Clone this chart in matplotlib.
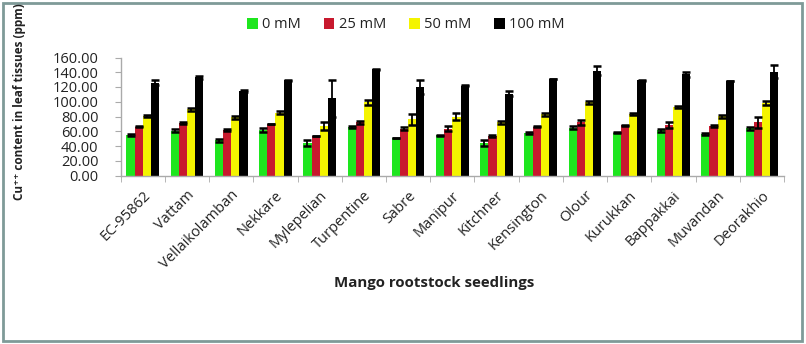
import matplotlib
matplotlib.use("Agg")
import matplotlib.pyplot as plt
import numpy as np
from matplotlib.patches import Rectangle

categories = ["EC-95862", "Vattam", "Vellaikolamban", "Nekkare", "Mylepelian",
              "Turpentine", "Sabre", "Manipur", "Kitchner", "Kensington",
              "Olour", "Kurukkan", "Bappakkai", "Muvandan", "Deorakhio"]
series_names = ["0 mM", "25 mM", "50 mM", "100 mM"]

v0 = [55, 61, 48, 62, 44.5, 66, 51, 54.5, 43.5, 58, 65, 58, 61.5, 56, 64]
v25 = [66, 71, 62, 70, 53.5, 72, 63.5, 63.5, 53.5, 66, 72, 68, 69, 67, 72]
v50 = [81, 90, 79, 85, 67, 99, 76, 80, 72, 83, 99, 83, 93, 80.5, 98]
v100 = [126, 133, 115, 129, 105, 144, 120, 122, 111, 131, 142, 129, 137, 128, 141]

e0 = [1, 2, 2, 3, 4, 1.5, 0.5, 1, 4, 1.5, 2, 1, 2, 1.5, 2]
e25 = [0.5, 1.5, 1.5, 0.5, 0.5, 1.5, 2, 3, 1, 0.5, 3, 0.5, 4, 1.5, 7]
e50 = [1.5, 2, 2, 2, 5, 3, 8, 4.5, 2, 2, 1.5, 1.5, 1.5, 2, 3]
e100 = [3, 2.5, 1.5, 0.5, 25, 0.5, 10, 0.5, 3, 0.5, 6, 0.5, 3.5, 0.5, 9]

colors = ["#1ee61e", "#c8192e", "#f4f400", "#000000"]
FAM = ["Open Sans", "DejaVu Sans"]
TXT = "#222222"

W, H = 806, 344
fig = plt.figure(figsize=(W / 100, H / 100), dpi=100)
fig.patch.set_facecolor("white")

# outer frame
fig.add_artist(Rectangle((2.5 / W, 3.5 / H), (802 - 2.5) / W, (341 - 3.5) / H,
                         transform=fig.transFigure, fill=False,
                         edgecolor="#7f9a98", linewidth=2.0))

ax = fig.add_axes([120.7 / W, 1 - 175.5 / H, (784 - 120.7) / W, (175.5 - 57.5) / H])

x = np.arange(len(categories))
bw = 0.185
data = [v0, v25, v50, v100]
errs = [e0, e25, e50, e100]
for i, (vals, err, c, name) in enumerate(zip(data, errs, colors, series_names)):
    pos = x + (i - 1.5) * bw
    ax.bar(pos, vals, width=bw, color=c, label=name, zorder=2)
    ax.errorbar(pos, vals, yerr=err, fmt="none", ecolor="black",
                elinewidth=1.3, capsize=3, capthick=1.8, zorder=3)

ax.set_xlim(-0.5, len(categories) - 0.5)
ax.set_ylim(0, 160)
yt = np.arange(0, 161, 20)
ax.set_yticks(yt)
ax.set_yticklabels([f"{v:.2f}" for v in yt], fontsize=10.5, family=FAM, color=TXT)
ax.set_xticks(x)
ax.set_xticklabels(categories, rotation=45, ha="right", rotation_mode="anchor",
                   fontsize=10.5, family=FAM, color=TXT)
ax.tick_params(axis="x", length=0, pad=9)
ax.set_xticks(np.arange(-0.5, len(categories), 1), minor=True)
ax.tick_params(axis="x", which="minor", length=4, color="#aaaaaa", direction="out")
ax.tick_params(axis="y", length=4, color="#aaaaaa", direction="out", pad=12)

for s in ["top", "right"]:
    ax.spines[s].set_visible(False)
for s in ["left", "bottom"]:
    ax.spines[s].set_color("#aaaaaa")
    ax.spines[s].set_linewidth(1)

fig.text(20 / W, 1 - 102 / H, "Cu\u207a\u207a content in leaf tissues (ppm)", rotation=90,
         ha="center", va="center", fontsize=8.5, fontweight="bold",
         family=FAM, color=TXT)
fig.text(434 / W, 1 - 283 / H, "Mango rootstock seedlings", ha="center", va="center",
         fontsize=10.8, fontweight="bold", family=FAM, color=TXT)

leg = fig.legend(loc="center", bbox_to_anchor=(406 / W, 1 - 25 / H), ncol=4,
                 frameon=False, handlelength=0.7, handleheight=0.7,
                 handletextpad=0.3, columnspacing=1.6,
                 prop={"family": FAM, "size": 10.5})
for t in leg.get_texts():
    t.set_color(TXT)

fig.savefig("out.png", dpi=100)
